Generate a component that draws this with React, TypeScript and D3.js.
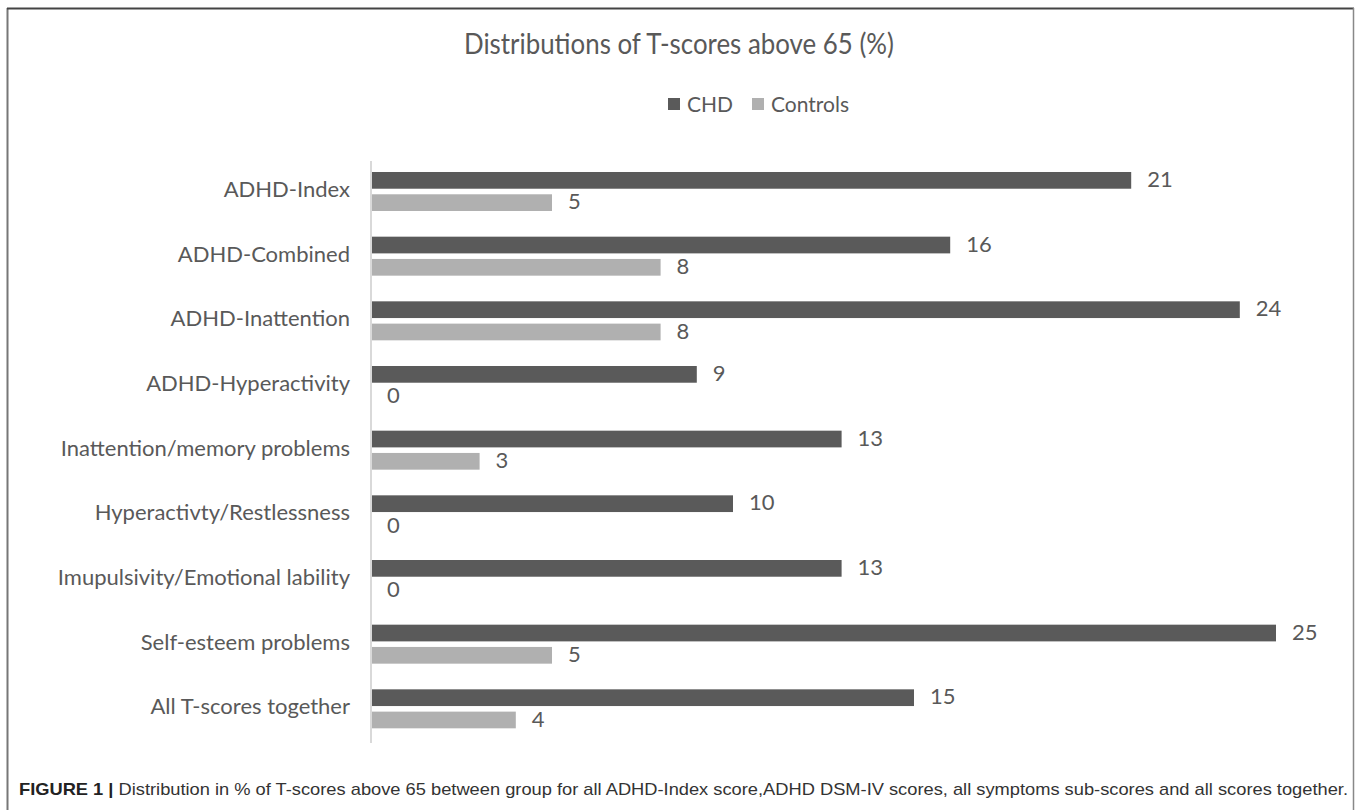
import React from "react";
import * as d3 from "d3";

const categories = [
  "ADHD-Index",
  "ADHD-Combined",
  "ADHD-Inattention",
  "ADHD-Hyperactivity",
  "Inattention/memory problems",
  "Hyperactivty/Restlessness",
  "Imupulsivity/Emotional lability",
  "Self-esteem problems",
  "All T-scores together",
];
const seriesNames = ["CHD", "Controls"];
const chdValues = [21, 16, 24, 9, 13, 10, 13, 25, 15];
const controlValues = [5, 8, 8, 0, 3, 0, 0, 5, 4];
const seriesColors = ["#5a5a5a", "#b0b0b0"];
const titleText = "Distributions of T-scores above 65 (%)";
const captionBold = "FIGURE 1 |";
const captionText =
  " Distribution in % of T-scores above 65 between group for all ADHD-Index score,ADHD DSM-IV scores, all symptoms sub-scores and all scores together.";

const W = 1357;
const H = 810;
const FONT = "Lato, 'Open Sans', sans-serif";
const TXT = "#595959";

export default function App() {
  const x = d3.scaleLinear().domain([0, 25]).range([371, 1276]);
  const y = d3.scaleBand<string>().domain(categories).range([161, 743]);
  const y1 = d3
    .scaleBand<string>()
    .domain(seriesNames)
    .range([11, 50])
    .paddingInner(0.25);
  const seriesData = [chdValues, controlValues];

  return (
    <svg
      width={W}
      height={H}
      style={{ position: "absolute", left: 0, top: 0, background: "#fff" }}
    >
      <rect x={0} y={0} width={W} height={H} fill="#fff" />
      {/* frame */}
      <line x1={7.5} y1={8} x2={7.5} y2={H} stroke="#777" strokeWidth={2} />
      <line x1={7} y1={8.5} x2={1354} y2={8.5} stroke="#444" strokeWidth={2} />
      <line x1={1353.5} y1={8} x2={1353.5} y2={H} stroke="#888" strokeWidth={1.5} />

      {/* title */}
      <text
        x={679}
        y={54}
        textAnchor="middle"
        fontFamily={FONT}
        fontSize={29}
        fill={TXT}
        textLength={430}
        lengthAdjust="spacingAndGlyphs"
      >
        {titleText}
      </text>

      {/* legend */}
      {seriesNames.map((s, i) => {
        const lx = i === 0 ? 668 : 752;
        return (
          <g key={s}>
            <rect x={lx} y={98} width={12} height={12} fill={seriesColors[i]} />
            <text
              x={lx + 19}
              y={112}
              fontFamily={FONT}
              fontSize={21}
              fill={TXT}
            >
              {s}
            </text>
          </g>
        );
      })}

      {/* axis line */}
      <line
        x1={x(0)}
        x2={x(0)}
        y1={161}
        y2={743}
        stroke="#d9d9d9"
        strokeWidth={2}
      />

      {/* categories */}
      {categories.map((c, ci) => {
        const by = y(c) as number;
        return (
          <g key={c}>
            <text
              x={350}
              y={by + y.bandwidth() / 2 - 2}
              textAnchor="end"
              dominantBaseline="middle"
              fontFamily={FONT}
              fontSize={22}
              fill={TXT}
            >
              {c}
            </text>
            {seriesNames.map((s, si) => {
              const v = seriesData[si][ci];
              const yy = by + (y1(s) as number);
              return (
                <g key={s}>
                  {v > 0 && (
                    <rect
                      x={x(0) + 1}
                      y={yy}
                      width={x(v) - x(0) - 1}
                      height={y1.bandwidth()}
                      fill={seriesColors[si]}
                    />
                  )}
                  <text
                    x={x(v) + 16}
                    y={yy + y1.bandwidth() / 2 + 1}
                    dominantBaseline="middle"
                    fontFamily={FONT}
                    fontSize={22}
                    fill={TXT}
                  >
                    {v}
                  </text>
                </g>
              );
            })}
          </g>
        );
      })}

      {/* caption */}
      <text
        x={19}
        y={795}
        fontFamily="'Liberation Sans Narrow', 'Liberation Sans', Arial, sans-serif"
        fontSize={17}
        fill="#333"
        textLength={1329}
        lengthAdjust="spacingAndGlyphs"
      >
        <tspan fontWeight="bold" fill="#222">
          {captionBold}
        </tspan>
        <tspan>{captionText}</tspan>
      </text>
    </svg>
  );
}
